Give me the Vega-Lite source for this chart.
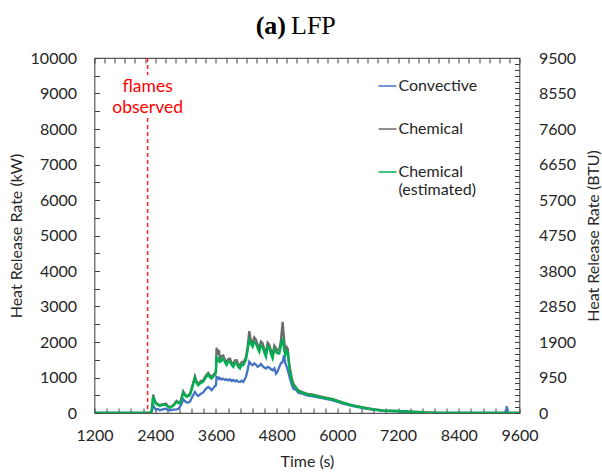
{
  "$schema": "https://vega.github.io/schema/vega-lite/v6.json",
  "autosize": {"type": "none"},
  "padding": {"left": 94.5, "top": 58, "right": 82.5, "bottom": 62},
  "width": 425,
  "height": 355,
  "config": {
    "view": {"stroke": "#595959", "strokeWidth": 1.2},
    "font": "Lato",
    "axis": {
      "labelFont": "Lato", "labelFontSize": 16, "labelColor": "#262626", "labelFlush": false,
      "titleFont": "Lato", "titleFontSize": 16, "titleFontWeight": "normal", "titleColor": "#262626",
      "tickColor": "#404040", "tickWidth": 1, "domain": false, "grid": false
    }
  },
  "data": {"values": [
    {"t": 1200, "conv": 0, "chem": 0, "est": 0},
    {"t": 2300, "conv": 0, "chem": 0, "est": 0},
    {"t": 2330, "conv": 30, "chem": 60, "est": 50},
    {"t": 2360, "conv": 217, "chem": 520, "est": 470},
    {"t": 2385, "conv": 150, "chem": 380, "est": 340},
    {"t": 2413, "conv": 94, "chem": 290, "est": 264},
    {"t": 2450, "conv": 110, "chem": 250, "est": 230},
    {"t": 2492, "conv": 80, "chem": 220, "est": 198},
    {"t": 2550, "conv": 100, "chem": 250, "est": 230},
    {"t": 2611, "conv": 122, "chem": 260, "est": 235},
    {"t": 2650, "conv": 90, "chem": 200, "est": 180},
    {"t": 2690, "conv": 75, "chem": 165, "est": 141},
    {"t": 2756, "conv": 95, "chem": 220, "est": 198},
    {"t": 2822, "conv": 104, "chem": 340, "est": 311},
    {"t": 2860, "conv": 120, "chem": 300, "est": 280},
    {"t": 2888, "conv": 170, "chem": 290, "est": 264},
    {"t": 2920, "conv": 250, "chem": 420, "est": 400},
    {"t": 2954, "conv": 386, "chem": 610, "est": 574},
    {"t": 2990, "conv": 330, "chem": 520, "est": 490},
    {"t": 3020, "conv": 300, "chem": 480, "est": 452},
    {"t": 3050, "conv": 292, "chem": 500, "est": 470},
    {"t": 3086, "conv": 320, "chem": 540, "est": 499},
    {"t": 3120, "conv": 420, "chem": 700, "est": 650},
    {"t": 3150, "conv": 500, "chem": 850, "est": 800},
    {"t": 3185, "conv": 593, "chem": 1040, "est": 989},
    {"t": 3220, "conv": 520, "chem": 880, "est": 840},
    {"t": 3251, "conv": 480, "chem": 820, "est": 781},
    {"t": 3300, "conv": 540, "chem": 900, "est": 850},
    {"t": 3349, "conv": 580, "chem": 920, "est": 876},
    {"t": 3400, "conv": 680, "chem": 1050, "est": 1000},
    {"t": 3448, "conv": 734, "chem": 1130, "est": 1083},
    {"t": 3480, "conv": 700, "chem": 1060, "est": 1010},
    {"t": 3514, "conv": 640, "chem": 1010, "est": 970},
    {"t": 3550, "conv": 700, "chem": 1080, "est": 1030},
    {"t": 3580, "conv": 763, "chem": 1110, "est": 1064},
    {"t": 3600, "conv": 780, "chem": 1200, "est": 1150},
    {"t": 3613, "conv": 1017, "chem": 1836, "est": 1554},
    {"t": 3640, "conv": 1000, "chem": 1650, "est": 1480},
    {"t": 3660, "conv": 960, "chem": 1780, "est": 1520},
    {"t": 3679, "conv": 990, "chem": 1500, "est": 1441},
    {"t": 3710, "conv": 940, "chem": 1600, "est": 1470},
    {"t": 3745, "conv": 970, "chem": 1620, "est": 1535},
    {"t": 3780, "conv": 930, "chem": 1480, "est": 1420},
    {"t": 3811, "conv": 950, "chem": 1440, "est": 1347},
    {"t": 3845, "conv": 920, "chem": 1520, "est": 1450},
    {"t": 3877, "conv": 951, "chem": 1530, "est": 1441},
    {"t": 3910, "conv": 900, "chem": 1420, "est": 1350},
    {"t": 3943, "conv": 930, "chem": 1390, "est": 1299},
    {"t": 3975, "conv": 890, "chem": 1480, "est": 1410},
    {"t": 4009, "conv": 923, "chem": 1490, "est": 1394},
    {"t": 4040, "conv": 880, "chem": 1380, "est": 1300},
    {"t": 4075, "conv": 876, "chem": 1340, "est": 1252},
    {"t": 4110, "conv": 910, "chem": 1440, "est": 1370},
    {"t": 4141, "conv": 880, "chem": 1420, "est": 1347},
    {"t": 4170, "conv": 950, "chem": 1500, "est": 1430},
    {"t": 4193, "conv": 1017, "chem": 1580, "est": 1488},
    {"t": 4225, "conv": 1200, "chem": 1850, "est": 1750},
    {"t": 4259, "conv": 1441, "chem": 2307, "est": 2053},
    {"t": 4290, "conv": 1380, "chem": 2050, "est": 1950},
    {"t": 4325, "conv": 1347, "chem": 1980, "est": 1864},
    {"t": 4358, "conv": 1400, "chem": 2130, "est": 2000},
    {"t": 4391, "conv": 1360, "chem": 2060, "est": 1959},
    {"t": 4425, "conv": 1300, "chem": 1920, "est": 1820},
    {"t": 4457, "conv": 1328, "chem": 1830, "est": 1723},
    {"t": 4490, "conv": 1380, "chem": 2010, "est": 1900},
    {"t": 4523, "conv": 1320, "chem": 1960, "est": 1864},
    {"t": 4556, "conv": 1280, "chem": 1800, "est": 1700},
    {"t": 4589, "conv": 1252, "chem": 1690, "est": 1582},
    {"t": 4622, "conv": 1300, "chem": 1980, "est": 1880},
    {"t": 4655, "conv": 1280, "chem": 1920, "est": 1817},
    {"t": 4690, "conv": 1230, "chem": 1760, "est": 1650},
    {"t": 4721, "conv": 1205, "chem": 1640, "est": 1535},
    {"t": 4755, "conv": 1260, "chem": 1900, "est": 1800},
    {"t": 4787, "conv": 1111, "chem": 1830, "est": 1723},
    {"t": 4820, "conv": 1180, "chem": 1760, "est": 1680},
    {"t": 4853, "conv": 1300, "chem": 1790, "est": 1676},
    {"t": 4885, "conv": 1400, "chem": 2050, "est": 1900},
    {"t": 4919, "conv": 1441, "chem": 2570, "est": 2100},
    {"t": 4945, "conv": 1629, "chem": 2100, "est": 1800},
    {"t": 4971, "conv": 1400, "chem": 1730, "est": 1629},
    {"t": 5000, "conv": 1300, "chem": 1850, "est": 1742},
    {"t": 5020, "conv": 1200, "chem": 1800, "est": 1700},
    {"t": 5040, "conv": 1100, "chem": 1500, "est": 1400},
    {"t": 5064, "conv": 970, "chem": 1250, "est": 1158},
    {"t": 5100, "conv": 800, "chem": 980, "est": 900},
    {"t": 5130, "conv": 687, "chem": 830, "est": 781},
    {"t": 5193, "conv": 640, "chem": 700, "est": 688},
    {"t": 5228, "conv": 574, "chem": 640, "est": 612},
    {"t": 5324, "conv": 540, "chem": 580, "est": 565},
    {"t": 5393, "conv": 499, "chem": 545, "est": 527},
    {"t": 5521, "conv": 470, "chem": 515, "est": 499},
    {"t": 5718, "conv": 410, "chem": 450, "est": 434},
    {"t": 5915, "conv": 355, "chem": 390, "est": 377},
    {"t": 6113, "conv": 265, "chem": 295, "est": 283},
    {"t": 6310, "conv": 195, "chem": 215, "est": 208},
    {"t": 6507, "conv": 140, "chem": 160, "est": 152},
    {"t": 6705, "conv": 95, "chem": 110, "est": 104},
    {"t": 6902, "conv": 60, "chem": 72, "est": 67},
    {"t": 7165, "conv": 45, "chem": 62, "est": 57},
    {"t": 7395, "conv": 25, "chem": 45, "est": 39},
    {"t": 7600, "conv": 15, "chem": 30, "est": 25},
    {"t": 7800, "conv": 5, "chem": 20, "est": 10},
    {"t": 8000, "conv": 5, "chem": 5, "est": 5},
    {"t": 8400, "conv": 0, "chem": 5, "est": 0},
    {"t": 9300, "conv": 0, "chem": 0, "est": 0},
    {"t": 9340, "conv": 100, "chem": 0, "est": 0},
    {"t": 9350, "conv": 190, "chem": 5, "est": 0},
    {"t": 9360, "conv": 0, "chem": 0, "est": 0},
    {"t": 9600, "conv": 0, "chem": 0, "est": 0}
  ]},
  "layer": [
    {
      "mark": {"type": "line", "strokeWidth": 2.3, "clip": true},
      "encoding": {
        "x": {"field": "t", "type": "quantitative", "scale": {"domain": [1200, 9600], "nice": false, "zero": false},
          "axis": {"orient": "bottom", "title": "Time (s)", "values": [1200,1440,1680,1920,2160,2400,2640,2880,3120,3360,3600,3840,4080,4320,4560,4800,5040,5280,5520,5760,6000,6240,6480,6720,6960,7200,7440,7680,7920,8160,8400,8640,8880,9120,9360,9600],
            "labelExpr": "datum.value % 1200 == 0 ? format(datum.value, 'd') : ''", "tickSize": -5, "labelPadding": 19, "titlePadding": 10}},
        "y": {"field": "conv", "type": "quantitative", "scale": {"domain": [0, 10000], "nice": false},
          "axis": {"orient": "left", "title": "Heat Release Rate (kW)", "values": [0,500,1000,1500,2000,2500,3000,3500,4000,4500,5000,5500,6000,6500,7000,7500,8000,8500,9000,9500,10000],
            "labelExpr": "datum.value % 1000 == 0 ? format(datum.value, 'd') : ''", "tickSize": -5, "labelPadding": 23, "titlePadding": 6}},
        "color": {"datum": "Convective", "type": "nominal",
          "scale": {"domain": ["Convective", "Chemical", "Chemical (estimated)"], "range": ["#4472C4", "#6b6b6b", "#00B050"]},
          "legend": {"orient": "none", "legendX": 283, "legendY": 18, "title": null, "symbolType": "stroke", "symbolSize": 324, "symbolStrokeWidth": 1.5,
            "labelFont": "Lato", "labelFontSize": 16, "labelColor": "#262626", "labelOffset": 1, "rowPadding": 25,
            "labelExpr": "datum.label == 'Chemical (estimated)' ? ['Chemical', '(estimated)'] : datum.label"}}
      }
    },
    {
      "mark": {"type": "line", "strokeWidth": 2.3, "clip": true},
      "encoding": {
        "x": {"field": "t", "type": "quantitative", "axis": null},
        "y": {"field": "chem", "type": "quantitative", "axis": null},
        "color": {"datum": "Chemical", "type": "nominal"}
      }
    },
    {
      "mark": {"type": "line", "strokeWidth": 2.3, "clip": true},
      "encoding": {
        "x": {"field": "t", "type": "quantitative", "axis": null},
        "y": {"field": "est", "type": "quantitative", "axis": null},
        "color": {"datum": "Chemical (estimated)", "type": "nominal"}
      }
    },
    {
      "mark": {"type": "point", "opacity": 0},
      "encoding": {
        "x": {"field": "t", "type": "quantitative",
          "axis": {"orient": "top", "title": null, "labels": false, "values": [1200,1400,1600,1800,2000,2200,2400,2600,2800,3000,3200,3400,3600,3800,4000,4200,4400,4600,4800,5000,5200,5400,5600,5800,6000,6200,6400,6600,6800,7000,7200,7400,7600,7800,8000,8200,8400,8600,8800,9000,9200,9400,9600], "tickSize": -5}},
        "y": {"field": "est", "type": "quantitative",
          "axis": {"orient": "right", "title": "Heat Release Rate (BTU)", "titleAngle": 270, "titleBaseline": "top",
            "values": [0,166.667,333.333,500,666.667,833.333,1000,1166.667,1333.333,1500,1666.667,1833.333,2000,2166.667,2333.333,2500,2666.667,2833.333,3000,3166.667,3333.333,3500,3666.667,3833.333,4000,4166.667,4333.333,4500,4666.667,4833.333,5000,5166.667,5333.333,5500,5666.667,5833.333,6000,6166.667,6333.333,6500,6666.667,6833.333,7000,7166.667,7333.333,7500,7666.667,7833.333,8000,8166.667,8333.333,8500,8666.667,8833.333,9000,9166.667,9333.333,9500,9666.667,9833.333,10000],
            "labelExpr": "abs(datum.value / 1000 - round(datum.value / 1000)) < 0.01 ? format(round(datum.value * 0.95), 'd') : ''",
            "tickSize": -5, "labelPadding": 24, "titlePadding": 10}}
      }
    },
    {
      "data": {"values": [{}]},
      "mark": {"type": "rule", "color": "#ff2020", "strokeWidth": 1.5, "strokeDash": [4, 3]},
      "encoding": {
        "x": {"datum": 2250, "type": "quantitative", "axis": null},
        "y": {"datum": 10000, "type": "quantitative", "axis": null},
        "y2": {"datum": 9520}
      }
    },
    {
      "data": {"values": [{}]},
      "mark": {"type": "rule", "color": "#ff2020", "strokeWidth": 1.5, "strokeDash": [4, 3]},
      "encoding": {
        "x": {"datum": 2250, "type": "quantitative", "axis": null},
        "y": {"datum": 8310, "type": "quantitative", "axis": null},
        "y2": {"datum": 0}
      }
    },
    {
      "data": {"values": [{}]},
      "mark": {"type": "text", "color": "#ff0000", "font": "Lato", "fontSize": 17.5, "align": "center", "baseline": "top", "lineHeight": 21,
        "text": ["flames", "observed"]},
      "encoding": {
        "x": {"datum": 2250, "type": "quantitative", "axis": null},
        "y": {"datum": 9440, "type": "quantitative", "axis": null}
      }
    },
    {
      "data": {"values": [{}]},
      "mark": {"type": "text", "color": "#000000", "font": "Liberation Serif", "fontSize": 26, "fontWeight": "bold", "align": "right", "baseline": "alphabetic", "text": "(a)"},
      "encoding": {
        "x": {"datum": 4985, "type": "quantitative", "axis": null},
        "y": {"datum": 10676, "type": "quantitative", "axis": null}
      }
    },
    {
      "data": {"values": [{}]},
      "mark": {"type": "text", "color": "#000000", "font": "Liberation Serif", "fontSize": 26, "fontWeight": "normal", "align": "left", "baseline": "alphabetic", "text": "LFP"},
      "encoding": {
        "x": {"datum": 5084, "type": "quantitative", "axis": null},
        "y": {"datum": 10676, "type": "quantitative", "axis": null}
      }
    }
  ],
  "resolve": {"axis": {"x": "independent", "y": "independent"}}
}
